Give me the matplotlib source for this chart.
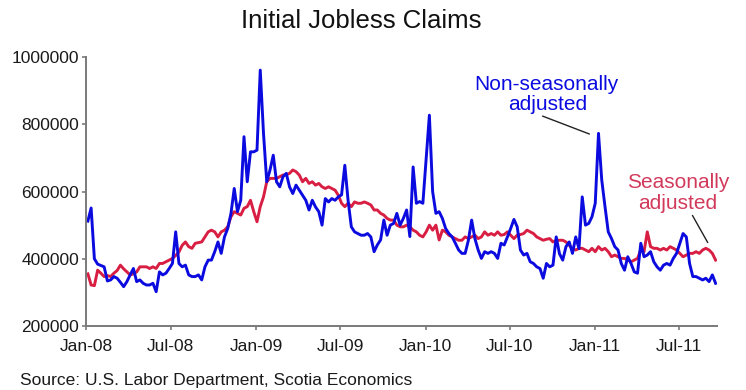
import pandas as pd
import matplotlib.pyplot as plt
import matplotlib.dates as mdates
from matplotlib.ticker import StrMethodFormatter

plt.rcParams['font.family'] = ['Liberation Sans', 'DejaVu Sans']

# Weekly initial claims, thousands (week ending Saturday)
weeks = pd.date_range('2008-01-05', periods=194, freq='7D')

nsa_k = [
    512, 551, 400, 384, 380, 376, 334, 337, 347, 342,
    330, 317, 332, 352, 371, 332, 337, 327, 322, 322,
    327, 302, 361, 352, 357, 371, 386, 480, 386, 376,
    381, 352, 347, 347, 352, 337, 376, 396, 396, 421,
    450, 416, 465, 490, 535, 609, 540, 574, 763, 629,
    718, 718, 723, 961, 773, 629, 664, 708, 629, 614,
    644, 654, 614, 594, 619, 604, 589, 574, 545, 574,
    554, 540, 500, 579, 569, 579, 574, 584, 590, 678,
    574, 495, 480, 475, 470, 470, 475, 465, 421, 441,
    456, 515, 470, 500, 505, 535, 500, 520, 545, 466,
    673, 565, 570, 565, 698, 827, 600, 535, 540, 520,
    490, 475, 465, 446, 426, 416, 416, 455, 515, 460,
    426, 401, 421, 416, 421, 416, 401, 446, 441, 465,
    490, 517, 495, 426, 411, 416, 391, 386, 376, 371,
    342, 386, 376, 381, 465, 415, 396, 436, 450, 416,
    465, 430, 584, 500, 505, 525, 565, 773, 634, 555,
    480, 460, 436, 426, 386, 366, 406, 386, 361, 357,
    446, 406, 411, 421, 391, 376, 366, 381, 386, 381,
    401, 416, 446, 475, 465, 386, 347, 347, 342, 337,
    342, 332, 352, 327,
]

sa_k = [
    355, 322, 320, 366, 357, 347, 350, 347, 357, 365,
    381, 370, 361, 352, 355, 361, 376, 376, 376, 371,
    376, 371, 386, 386, 391, 396, 401, 410, 420, 440,
    450, 436, 431, 446, 448, 450, 465, 480, 485, 480,
    465, 480, 485, 495, 525, 540, 535, 530, 550, 555,
    574, 540, 510, 555, 584, 629, 639, 639, 639, 644,
    649, 650, 654, 664, 659, 649, 629, 639, 624, 629,
    619, 624, 614, 609, 614, 609, 604, 589, 565, 555,
    565, 555, 569, 565, 565, 569, 565, 560, 545, 545,
    535, 530, 520, 515, 515, 500, 495, 495, 500, 495,
    485, 480, 470, 465, 480, 500, 485, 500, 456, 485,
    480, 470, 465, 460, 455, 455, 465, 460, 465, 470,
    460, 465, 480, 470, 475, 470, 480, 470, 472, 480,
    470, 460, 470, 472, 475, 485, 480, 475, 465, 460,
    455, 458, 460, 450, 455, 455, 455, 450, 440, 430,
    426, 431, 431, 426, 421, 431, 421, 436, 426, 431,
    421, 406, 411, 406, 401, 401, 396, 391, 396, 401,
    426, 421, 480, 436, 431, 431, 426, 431, 426, 436,
    431, 426, 416, 406, 411, 416, 416, 421, 416, 426,
    431, 426, 416, 396,
]

nsa = pd.Series(nsa_k, index=weeks) * 1000
sa = pd.Series(sa_k, index=weeks) * 1000

blue = '#0b0be0'
red = '#d81e42'
red_text = '#d23a5c'
grey = '#7a7a7a'

fig = plt.figure(figsize=(7.46, 3.9), dpi=100)
ax = fig.add_axes([0.1153, 0.1641, 0.8458, 0.6897])

ax.plot(sa.index, sa.values, color=red, lw=2.1, solid_joinstyle='round')
ax.plot(nsa.index, nsa.values, color=blue, lw=2.1, solid_joinstyle='round')

ax.set_ylim(200000, 1000000)
ax.set_yticks(range(200000, 1000001, 200000))
ax.yaxis.set_major_formatter(StrMethodFormatter('{x:.0f}'))
ax.set_xlim(pd.Timestamp('2008-01-01'), pd.Timestamp('2011-09-20'))
ax.xaxis.set_major_locator(mdates.MonthLocator(bymonth=[1, 7]))
ax.xaxis.set_major_formatter(mdates.DateFormatter('%b-%y'))

for side in ['top', 'right']:
    ax.spines[side].set_visible(False)
for side in ['left', 'bottom']:
    ax.spines[side].set_color(grey)
    ax.spines[side].set_linewidth(1.4)
ax.tick_params(axis='both', colors=grey, length=3, width=1.2,
               labelsize=12.5, labelcolor='#1a1a1a')
ax.tick_params(axis='y', pad=2)
ax.tick_params(axis='x', pad=6)

# series labels with leader lines
ax.text(0.729, 0.877, 'Non-seasonally', transform=ax.transAxes,
        ha='center', va='baseline', fontsize=15, color=blue)
ax.text(0.731, 0.803, 'adjusted', transform=ax.transAxes,
        ha='center', va='baseline', fontsize=15, color=blue)
peak = nsa.index[157]
ax.annotate('', xy=(peak - pd.Timedelta(days=14), nsa[peak] - 5000),
            xycoords='data', xytext=(0.7195, 0.784), textcoords='axes fraction',
            arrowprops=dict(arrowstyle='-', color='#222222', lw=1.0))

ax.text(0.938, 0.513, 'Seasonally', transform=ax.transAxes,
        ha='center', va='baseline', fontsize=15, color=red_text)
ax.text(0.938, 0.435, 'adjusted', transform=ax.transAxes,
        ha='center', va='baseline', fontsize=15, color=red_text)
end = sa.index[191]
ax.annotate('', xy=(end, sa[end] + 15000),
            xycoords='data', xytext=(0.959, 0.420), textcoords='axes fraction',
            arrowprops=dict(arrowstyle='-', color='#222222', lw=1.0))

fig.text(0.484, 0.928, 'Initial Jobless Claims', ha='center', va='baseline',
         fontsize=18.5, color='#111111')
fig.text(0.027, 0.012, 'Source: U.S. Labor Department, Scotia Economics',
         ha='left', va='baseline', fontsize=12.5, color='#1a1a1a')

fig.savefig('out.png', dpi=100)
